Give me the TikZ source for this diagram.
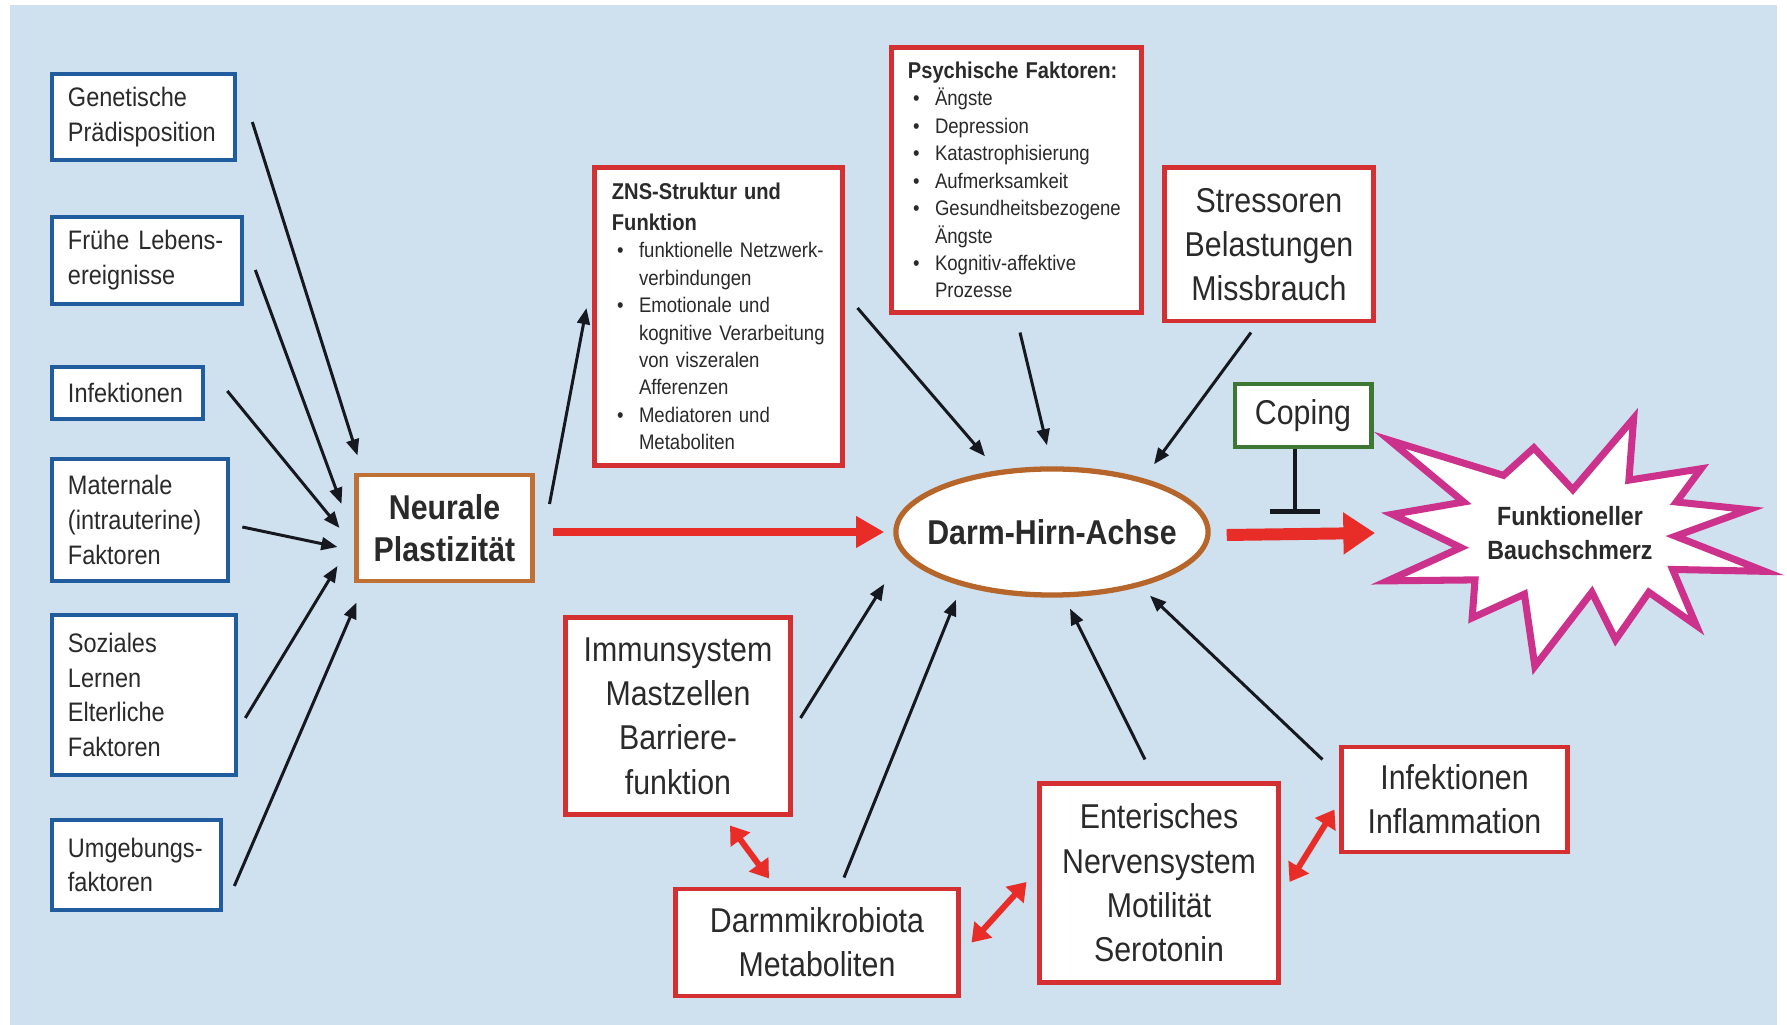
\documentclass[tikz,border=0pt]{standalone}
\usepackage{fontspec}
\setmainfont{Liberation Sans}[FakeStretch=0.88]
\usetikzlibrary{arrows.meta,calc,shapes.geometric}

\definecolor{bgblue}{RGB}{207,224,238}
\definecolor{boxblue}{RGB}{33,92,158}
\definecolor{boxred}{RGB}{212,48,50}
\definecolor{boxorange}{RGB}{192,112,52}
\definecolor{ellbrown}{RGB}{182,102,42}
\definecolor{boxgreen}{RGB}{62,118,52}
\definecolor{starmag}{RGB}{204,50,140}
\definecolor{arrowred}{RGB}{232,45,40}
\definecolor{arrowblack}{RGB}{22,24,32}
\definecolor{txt}{RGB}{42,42,42}

% bullet and hanging indent for the list boxes
\newcommand{\bul}{\makebox[7.7pt][l]{\hspace{1.5pt}\textbullet}}
\newcommand{\ind}{\hspace*{7.7pt}}

\begin{document}
\begin{tikzpicture}[x=0.01cm,y=-0.01cm,
  every node/.style={text=txt},
  bluebox/.style={draw=boxblue, line width=1.3pt, fill=white, inner sep=0pt,
    align=left, font=\fontsize{7.6}{9.9}\selectfont},
  redbox/.style={draw=boxred, line width=1.4pt, fill=white, inner sep=0pt,
    align=center, font=\fontsize{9.8}{12.6}\selectfont},
  listbox/.style={draw=boxred, line width=1.4pt, fill=white, inner sep=0pt,
    align=left, font=\fontsize{6}{7.8}\selectfont},
  arr/.style={draw=arrowblack, line width=0.85pt,
    -{Triangle[length=4.6pt,width=3.6pt]}},
  bigarr/.style={draw=arrowred, line width=2.4pt,
    -{Triangle[length=8pt,width=8.5pt]}},
  hugearr/.style={draw=arrowred, line width=3.4pt,
    -{Triangle[length=9pt,width=11.4pt]}},
  duoarr/.style={draw=arrowred, line width=1.7pt,
    {Triangle[length=5pt,width=6.6pt]}-{Triangle[length=5pt,width=6.6pt]}},
  inhib/.style={draw=arrowblack, line width=0.9pt,
    -{Bar[width=14pt,line width=1.5pt]}},
]
\useasboundingbox (0,0) rectangle (1787,1025);
\fill[white] (0,0) rectangle (1787,1025);
\fill[bgblue] (10,5) rectangle (1777,1025);

% influencing factors (left column)
\node[bluebox, minimum width=1.83cm, minimum height=0.86cm, text width=1.51cm] (gen) at (143.5,117) {Genetische\\Prädisposition};
\node[bluebox, minimum width=1.90cm, minimum height=0.87cm, text width=1.58cm] (fru) at (147,260.5) {Frühe Lebens-\\ereignisse};
\node[bluebox, minimum width=1.51cm, minimum height=0.52cm, text width=1.19cm] (infl) at (127.5,393) {Infektionen};
\node[bluebox, minimum width=1.76cm, minimum height=1.22cm, text width=1.44cm] (mat) at (140,520) {Maternale\\(intrauterine)\\Faktoren};
\node[bluebox, minimum width=1.84cm, minimum height=1.60cm, text width=1.52cm] (soz) at (144,695) {Soziales\\Lernen\\Elterliche\\Faktoren};
\node[bluebox, minimum width=1.69cm, minimum height=0.90cm, text width=1.37cm] (umg) at (136.5,865) {Umgebungs-\\faktoren};

% neural plasticity
\node[draw=boxorange, line width=1.4pt, fill=white, inner sep=0pt, align=center,
  minimum width=1.75cm, minimum height=1.06cm,
  font=\bfseries\fontsize{9.8}{12}\selectfont] (neur) at (444.5,528) {Neurale\\Plastizität};

% central nervous system
\node[listbox, minimum width=2.47cm, minimum height=2.97cm, text width=2.13cm] (zns) at (718.5,316.5) {%
{\bfseries\fontsize{6.5}{8}\selectfont ZNS-Struktur und}\\[1pt]
{\bfseries\fontsize{6.5}{8}\selectfont Funktion}\\
\bul funktionelle Netzwerk-\\
\ind verbindungen\\
\bul Emotionale und\\
\ind kognitive Verarbeitung\\
\ind von viszeralen\\
\ind Afferenzen\\
\bul Mediatoren und\\
\ind Metaboliten};

% psychological factors
\node[listbox, minimum width=2.49cm, minimum height=2.64cm, text width=2.17cm] (psy) at (1016.5,180) {%
{\bfseries\fontsize{6.5}{8}\selectfont Psychische Faktoren:}\\
\bul Ängste\\
\bul Depression\\
\bul Katastrophisierung\\
\bul Aufmerksamkeit\\
\bul Gesundheitsbezogene\\
\ind Ängste\\
\bul Kognitiv-affektive\\
\ind Prozesse};

\node[redbox, minimum width=2.08cm, minimum height=1.53cm] (str) at (1269,244.5) {Stressoren\\Belastungen\\Missbrauch};

\node[draw=boxgreen, line width=1.4pt, fill=white, inner sep=0pt,
  minimum width=1.36cm, minimum height=0.63cm,
  font=\fontsize{9.8}{12}\selectfont] (cop) at (1303,415.5) {Coping};

% gut-brain axis
\node[ellipse, draw=ellbrown, line width=1.5pt, fill=white, inner sep=0pt,
  minimum width=3.12cm, minimum height=1.26cm,
  font=\bfseries\fontsize{9.8}{12}\selectfont] (dha) at (1052,532) {\makebox[0pt][c]{Darm-Hirn-Achse}};

% peripheral factors (bottom)
\node[redbox, minimum width=2.24cm, minimum height=1.96cm] (imm) at (678,716) {Immunsystem\\Mastzellen\\Barriere-\\funktion};
\node[redbox, minimum width=2.82cm, minimum height=1.07cm] (dmb) at (817,942.5) {Darmmikrobiota\\Metaboliten};
\node[redbox, minimum width=2.38cm, minimum height=1.98cm] (ens) at (1159,883) {Enterisches\\Nervensystem\\Motilität\\Serotonin};
\node[redbox, minimum width=2.25cm, minimum height=1.05cm] (iif) at (1454.5,799.5) {Infektionen\\Inflammation};

% abdominal pain burst
\begin{scope}[shift={(1570,540)}, scale=0.95, shift={(-1570,-540)}]
\draw[draw=starmag, line width=2pt, fill=white, line join=miter]
  (1380,435) -- (1500,472) -- (1532,443) -- (1573,487) -- (1637,412) --
  (1632,477) -- (1708,465) -- (1682,500) -- (1758,508) -- (1681,536) --
  (1775,573) -- (1678,571) -- (1703,630) -- (1653,595) -- (1618,645) --
  (1593,595) -- (1533,673) -- (1522,597) -- (1467,622) -- (1470,582) --
  (1378,583) -- (1455,548) -- (1383,513) -- (1458,500) -- cycle;
\end{scope}
\node[align=center, inner sep=0pt, font=\bfseries\fontsize{7.5}{9.7}\selectfont] (pain) at (1570,533) {Funktioneller\\Bauchschmerz};

% factors acting on neural plasticity
\draw[arr] ([shift={(15,5)}]gen.east) -- ([shift={(3,-17)}]neur.north west);
\draw[arr] ([shift={(11,9.5)}]fru.east) -- ([shift={(-13,-24)}]neur.west);
\draw[arr] ([shift={(22,-2)}]infl.east) -- ([shift={(-15,0)}]neur.west);
\draw[arr] ([shift={(12,7)}]mat.east) -- ([shift={(-17,19)}]neur.west);
\draw[arr] ([shift={(7,23)}]soz.east) -- ([shift={(-17,38)}]neur.west);
\draw[arr] ([shift={(11,21)}]umg.east) -- ([shift={(2,19)}]neur.south west);

\draw[arr] ([shift={(15,-24)}]neur.east) -- ([shift={(-6,-8.5)}]zns.west);

% inputs to the gut-brain axis
\draw[arr] ([shift={(13,-8.5)}]zns.east) -- ([shift={(-67,-10)}]dha.north);
\draw[arr] ([shift={(3.5,18)}]psy.south) -- ([shift={(-5,-21)}]dha.north);
\draw[arr] ([shift={(-18,9)}]str.south) -- ([shift={(102,-2)}]dha.north);
\draw[arr] ([shift={(8,2)}]imm.east) -- ([shift={(-9,52)}]dha.west);
\draw[arr] ([shift={(27,-9)}]dmb.north) -- ([shift={(-96,2)}]dha.south);
\draw[arr] ([shift={(-14,-22)}]ens.north) -- ([shift={(18,11)}]dha.south);
\draw[arr] ([shift={(-17,15)}]iif.north west) -- ([shift={(98,-2)}]dha.south);

% main pathway
\draw[bigarr] ([shift={(18,4)}]neur.east) -- ([shift={(-9,0)}]dha.west);
\draw[hugearr] ([shift={(16,3)}]dha.east) -- ([shift={(-195,0)}]pain.center);

% coping inhibits
\draw[inhib] ([shift={(-8,0)}]cop.south) -- ++(0,65);

% mutual interactions
\draw[duoarr] ([shift={(52,9)}]imm.south) -- ([shift={(-48,-8)}]dmb.north);
\draw[duoarr] ([shift={(11,0)}]dmb.east) -- ([shift={(-11,-1)}]ens.west);
\draw[duoarr] ([shift={(9,-1)}]ens.east) -- ([shift={(-5,10)}]iif.west);
\end{tikzpicture}
\end{document}
